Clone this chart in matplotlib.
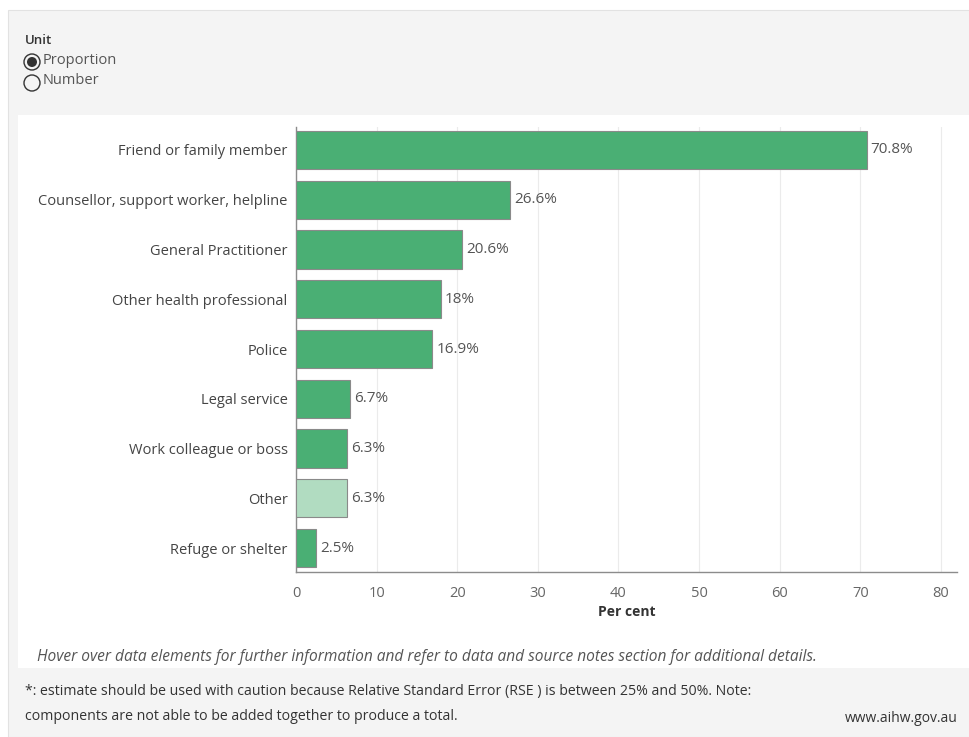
import matplotlib
matplotlib.use("Agg")
import matplotlib.pyplot as plt
from matplotlib.patches import Rectangle, Circle

plt.rcParams["font.family"] = ["Open Sans", "DejaVu Sans"]

categories = [
    "Friend or family member",
    "Counsellor, support worker, helpline",
    "General Practitioner",
    "Other health professional",
    "Police",
    "Legal service",
    "Work colleague or boss",
    "Other",
    "Refuge or shelter",
]
values = [70.8, 26.6, 20.6, 18.0, 16.9, 6.7, 6.3, 6.3, 2.5]
labels = ["70.8%", "26.6%", "20.6%", "18%", "16.9%", "6.7%", "6.3%", "6.3%", "2.5%"]
caution = [False, False, False, False, False, False, False, True, False]
xticks = [0, 10, 20, 30, 40, 50, 60, 70, 80]

W, H = 970, 737
fig = plt.figure(figsize=(W / 100, H / 100), dpi=100)
fig.patch.set_facecolor("white")

# background panels
bg = fig.add_axes([0, 0, 1, 1], zorder=-5)
bg.set_xlim(0, W)
bg.set_ylim(H, 0)
bg.axis("off")
bg.add_patch(Rectangle((8, 10), 962, 727, facecolor="#f4f4f4", edgecolor="#e2e2e2", lw=0.8))
bg.add_patch(Rectangle((18, 115), 952, 553, facecolor="white", edgecolor="none"))

# unit selector
bg.text(25, 40, "Unit", fontsize=9.5, fontweight="semibold", color="#333333", va="center")
bg.add_patch(Circle((32, 62), 8, facecolor="none", edgecolor="#333333", lw=1))
bg.add_patch(Circle((32, 62), 5, facecolor="#333333", edgecolor="none"))
bg.text(43, 60, "Proportion", fontsize=10.5, color="#555555", va="center")
bg.add_patch(Circle((32, 83), 8, facecolor="none", edgecolor="#333333", lw=1))
bg.text(43, 80, "Number", fontsize=10.5, color="#555555", va="center")

# notes
bg.text(37, 657, "Hover over data elements for further information and refer to data and source notes section for additional details.",
        fontsize=11.2, style="italic", color="#555555", va="center")
bg.text(25, 691, "*: estimate should be used with caution because Relative Standard Error (RSE ) is between 25% and 50%. Note:",
        fontsize=10.2, color="#333333", va="center")
bg.text(25, 716, "components are not able to be added together to produce a total.",
        fontsize=10.2, color="#333333", va="center")
bg.text(958, 719, "www.aihw.gov.au", fontsize=10, color="#333333", va="center", ha="right")

# chart
ax = fig.add_axes([296 / W, 1 - 572 / H, 661 / W, (572 - 127) / H])
ypos = list(range(len(categories)))
colors = ["#b1dcc1" if c else "#4aaf74" for c in caution]
ax.barh(ypos, values, height=0.77, color=colors, edgecolor="#8a8a8a", linewidth=0.8, zorder=3)
for y, v, lab in zip(ypos, values, labels):
    ax.text(v + 0.5, y, lab, va="center", ha="left", fontsize=11, color="#555555")

ax.set_xlim(0, 82)
ax.set_ylim(8.48, -0.46)
ax.set_yticks(ypos)
ax.set_yticklabels(categories, fontsize=10.5, color="#444444")
ax.set_xticks(xticks)
ax.set_xticklabels([str(t) for t in xticks], fontsize=10.5, color="#666666")
ax.tick_params(axis="y", length=0, pad=6)
ax.tick_params(axis="x", length=0, pad=10)
ax.xaxis.grid(True, color="#ebebeb", lw=0.8, zorder=0)
for s in ["top", "right"]:
    ax.spines[s].set_visible(False)
for s in ["left", "bottom"]:
    ax.spines[s].set_color("#8c8c8c")
    ax.spines[s].set_linewidth(1)
ax.set_xlabel("Per cent", fontsize=10, fontweight="bold", color="#333333", labelpad=3)

fig.savefig("out.png", dpi=100)
